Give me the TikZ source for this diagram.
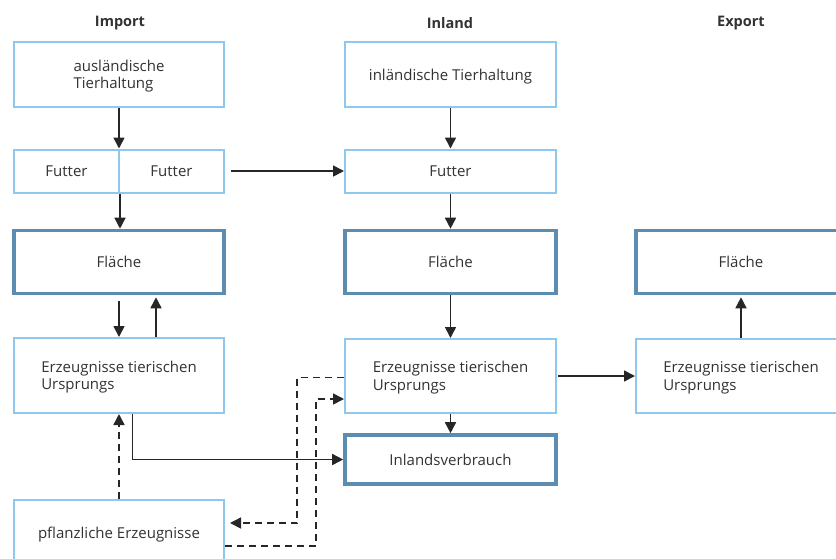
\documentclass[tikz,border=0pt]{standalone}
\usepackage{fontspec}
\setmainfont{Open Sans}
\usetikzlibrary{arrows.meta,calc}
\definecolor{lightbox}{RGB}{142,200,238}
\definecolor{darkbox}{RGB}{92,140,176}
\definecolor{txt}{RGB}{50,50,50}
\tikzset{
  box/.style={draw=lightbox, line width=2pt, rectangle, inner sep=0pt, text=txt,
    font=\fontsize{15}{17.5}\selectfont, align=left, text depth=0pt},
  thickbox/.style={box, draw=darkbox, line width=3.6pt},
  hdr/.style={font=\fontsize{14.5}{16}\selectfont\bfseries, text=txt},
  arr/.style={line width=1.6pt, draw=black!85, -{Triangle[length=11pt,width=11pt]}},
  darr/.style={arr, dash pattern=on 7pt off 5pt},
}
\begin{document}
\begin{tikzpicture}[x=1pt,y=-1pt]
\useasboundingbox (0,0) rectangle (836,558);
% headers
\node[hdr] (hImp) at (120,23) {Import};
\node[hdr] (hInl) at (450,23) {Inland};
\node[hdr] (hExp) at (741,23) {Export};
% column 1
\node[box, minimum width=210pt, minimum height=65pt] (aus) at (119,74.5) {ausländische\\Tierhaltung};
\node[box, minimum width=105pt, minimum height=43pt] (futL) at (66.5,171) {Futter};
\node[box, minimum width=105pt, minimum height=43pt] (futR) at (171.5,171) {Futter};
\node[thickbox, minimum width=210pt, minimum height=63pt] (flI) at (119,262) {Fläche};
\node[box, minimum width=210pt, minimum height=75pt] (erzI) at (119,375.5) {Erzeugnisse tierischen\\Ursprungs};
\node[box, minimum width=210pt, minimum height=66pt] (pfl) at (119,533) {pflanzliche Erzeugnisse};
% column 2
\node[box, minimum width=211pt, minimum height=65pt] (inT) at (450.5,74.5) {inländische Tierhaltung};
\node[box, minimum width=211pt, minimum height=43pt] (inF) at (450.5,171) {Futter};
\node[thickbox, minimum width=211pt, minimum height=63pt] (flN) at (450.5,262) {Fläche};
\node[box, minimum width=211pt, minimum height=74pt] (erzN) at (450.5,376) {Erzeugnisse tierischen\\Ursprungs};
\node[thickbox, minimum width=211pt, minimum height=49pt] (ver) at (450.5,459.5) {Inlandsverbrauch};
% column 3
\node[thickbox, minimum width=210pt, minimum height=63pt] (flE) at (741,262) {Fläche};
\node[box, minimum width=210pt, minimum height=74pt] (erzE) at (741,376) {Erzeugnisse tierischen\\Ursprungs};
% solid arrows
\draw[arr] (aus.south) -- (aus.south |- futL.north);
\draw[arr] ([xshift=6pt]futR.east) -- (inF.west);
\draw[arr] (futL.south east) -- (futL.south east |- flI.north);
\draw[arr] ($(flI.south)+(0,6)$) -- (flI.south |- erzI.north);
\draw[arr] ($(erzI.north)+(37,0)$) -- ($(flI.south)+(37,2)$);
\draw[arr] (inT.south) -- (inF.north);
\draw[arr] (inF.south) -- (flN.north);
\draw[arr] (flN.south) -- (erzN.north);
\draw[arr] (erzN.south) -- (ver.north);
\draw[arr] ([xshift=1pt]erzN.east) -- (erzE.west);
\draw[arr] (erzE.north) -- ($(flE.south)+(0,2)$);
\draw[arr] ($(erzI.south)+(13.5,0)$) |- (ver.west);
% dashed
\draw[darr] (pfl.north) -- (erzI.south);
\coordinate (c1) at (297,0);
\coordinate (c2) at (316,0);
\draw[darr] ($(erzN.west)+(0,1.5)$) -| ($(c1 |- pfl.east)+(0,-10)$) -- ($(pfl.east)+(5,-10)$);
\draw[darr] ($(pfl.east)+(0,12.7)$) -| ($(c2 |- erzN.west)+(0,23)$) -- ($(erzN.west)+(0,23)$);
\end{tikzpicture}
\end{document}
